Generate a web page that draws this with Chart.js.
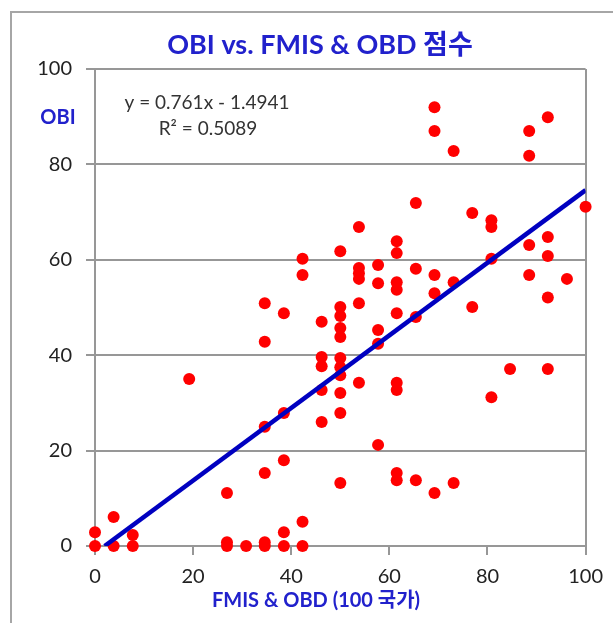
<!DOCTYPE html>
<html>
<head>
<meta charset="utf-8">
<script src="https://cdn.jsdelivr.net/npm/chart.js@4.4.0/dist/chart.umd.min.js"></script>
<style>
  html, body { margin: 0; padding: 0; background: #fff; overflow: hidden; }
  #marco { position: absolute; left: 10px; top: 11px; width: 603px; height: 612px; box-sizing: border-box;
           border-left: 2px solid #a6a6a6; border-top: 2px solid #a6a6a6; }
  #grafico { position: absolute; left: 0; top: 0; }
</style>
</head>
<body>
<div id="marco"></div>
<canvas id="grafico" width="613" height="623"></canvas>
<script>
// puntuaciones por país (x = FMIS & OBD, y = OBI)
const fmisObd = [
    0, 0,
    3.8, 3.8,
    7.7, 7.7,
    19.2,
    26.9, 26.9, 26.9,
    30.8,
    34.6, 34.6, 34.6, 34.6, 34.6, 34.6,
    38.5, 38.5, 38.5, 38.5, 38.5,
    42.3, 42.3, 42.3, 42.3,
    46.2, 46.2, 46.2, 46.2, 46.2,
    50, 50, 50, 50, 50, 50, 50, 50, 50, 50, 50,
    53.8, 53.8, 53.8, 53.8, 53.8, 53.8,
    57.7, 57.7, 57.7, 57.7, 57.7,
    61.5, 61.5, 61.5, 61.5, 61.5, 61.5, 61.5, 61.5, 61.5,
    65.4, 65.4, 65.4, 65.4,
    69.2, 69.2, 69.2, 69.2, 69.2,
    73.1, 73.1, 73.1,
    76.9, 76.9,
    80.8, 80.8, 80.8, 80.8,
    84.6,
    88.5, 88.5, 88.5, 88.5,
    92.3, 92.3, 92.3, 92.3, 92.3,
    96.2,
    100
];
const obi = [
    2.9, 0,
    6.1, 0,
    2.3, 0,
    35.0,
    11.1, 0.8, 0,
    0,
    50.9, 42.8, 25.0, 15.3, 0.8, 0,
    48.8, 27.9, 18.0, 2.9, 0,
    60.2, 56.8, 5.1, 0,
    47.0, 39.6, 37.7, 32.7, 26.0,
    61.8, 50.1, 48.2, 45.7, 43.8, 39.4, 37.5, 35.8, 32.1, 27.9, 13.2,
    66.9, 58.3, 57.2, 56.0, 50.9, 34.2,
    58.9, 55.1, 45.3, 42.4, 21.2,
    63.9, 61.4, 55.3, 53.7, 48.8, 34.2, 32.7, 15.3, 13.8,
    71.9, 58.1, 48.0, 13.8,
    92.0, 87.0, 56.8, 53.0, 11.1,
    82.8, 55.3, 13.2,
    69.8, 50.1,
    68.3, 66.9, 60.2, 31.2,
    37.1,
    87.0, 81.8, 63.1, 56.8,
    89.9, 64.8, 60.8, 52.1, 37.1,
    56.0,
    71.1
];
const ticksX = [0, 20, 40, 60, 80, 100];
const ticksY = [0, 20, 40, 60, 80, 100];

// línea de tendencia de Excel
const pendiente = 0.761;
const intercepto = -1.4941;
const r2 = 0.5089;

const titulo = 'OBI vs. FMIS & OBD 점수';
const tituloX = 'FMIS & OBD (100 국가)';
const tituloY = 'OBI';

const gris = '#979797';
const azul = '#2121cc';

const puntos = fmisObd.map((x, i) => ({ x: x, y: obi[i] }));
const xIni = -intercepto / pendiente;
const xFin = ticksX[ticksX.length - 1];
const tendencia = [
    { x: xIni, y: pendiente * xIni + intercepto },
    { x: xFin, y: pendiente * xFin + intercepto }
];

const textos = {
    id: 'textos',
    afterDraw(chart) {
        const ctx = chart.ctx;
        ctx.save();
        ctx.textAlign = 'center';
        ctx.textBaseline = 'middle';
        ctx.fillStyle = azul;
        ctx.font = 'bold 27px Lato, "Noto Sans CJK KR"';
        ctx.fillText(titulo, 320, 45);
        ctx.font = 'bold 20px Lato, "Noto Sans CJK KR"';
        ctx.fillText(tituloY, 58, 118);
        ctx.fillText(tituloX, 316, 601);
        ctx.fillStyle = '#333';
        ctx.font = '19px Lato';
        ctx.fillText('y = ' + pendiente + 'x - ' + Math.abs(intercepto), 207, 103);
        ctx.fillText('R² = ' + r2, 208, 129);
        ctx.restore();
    }
};

new Chart(document.getElementById('grafico'), {
    type: 'scatter',
    data: {
        datasets: [
            { type: 'line', data: tendencia, borderColor: '#0000c0', borderWidth: 4.5, pointRadius: 0, fill: false },
            { data: puntos, backgroundColor: '#ff0000', borderWidth: 0, pointRadius: 6, clip: false }
        ]
    },
    options: {
        responsive: false,
        animation: false,
        layout: { padding: { top: 69, right: 27, bottom: 0, left: 0 } },
        plugins: { legend: { display: false }, tooltip: { enabled: false } },
        scales: {
            x: {
                type: 'linear', position: 'bottom',
                min: ticksX[0], max: xFin,
                afterFit: s => { s.height = 77; },
                ticks: { stepSize: ticksX[1] - ticksX[0], color: '#222', font: { family: 'Lato', size: 20 }, padding: 10 },
                grid: { color: c => (c.tick && c.tick.value === xFin ? gris : 'transparent'), lineWidth: 2, tickLength: 9, tickColor: gris, tickWidth: 2 },
                border: { color: gris, width: 2 }
            },
            y: {
                min: ticksY[0], max: ticksY[ticksY.length - 1],
                afterFit: s => { s.width = 95; },
                ticks: { stepSize: ticksY[1] - ticksY[0], color: '#222', font: { family: 'Lato', size: 20 }, padding: 14 },
                grid: { color: gris, lineWidth: 2, tickLength: 9, tickColor: gris, tickWidth: 2 },
                border: { color: gris, width: 2 }
            }
        }
    },
    plugins: [textos]
});
</script>
</body>
</html>
